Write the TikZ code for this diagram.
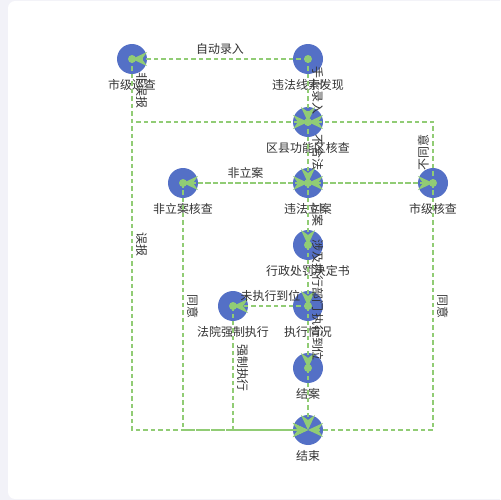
\documentclass[tikz,border=0pt]{standalone}
\usepackage{fontspec}
\setmainfont{Noto Sans CJK SC}
\usepackage{tikz}
\usetikzlibrary{arrows.meta}
\definecolor{nodecolor}{HTML}{5470C6}
\definecolor{linecolor}{HTML}{91CC75}
\definecolor{textcolor}{HTML}{333333}
\definecolor{sidecolor}{HTML}{F2F2F8}

\begin{document}
\begin{tikzpicture}[x=0.02cm, y=-0.02cm,
  lbl/.style={font=\fontsize{6.8pt}{8pt}\selectfont, text=textcolor, inner sep=0pt},
  state/.style={circle, fill=nodecolor, minimum size=0.6cm, inner sep=0pt,
    label={[lbl, label distance=0.1cm]below:#1}},
  flow/.style={draw=linecolor, line width=0.7pt, dash pattern=on 0.09cm off 0.06cm,
    -{Stealth[length=0.3cm, width=0.28cm, inset=0.1cm]}},
  elbl/.style={lbl, inner sep=0.07cm}]
   \useasboundingbox (0,0) rectangle (500,500);
   \fill [sidecolor] (0,0) rectangle (500,500);
   \fill [white, rounded corners=4] (8,1) rectangle (520,499);

   \node [state=市级巡查] (sjxc) at (132,59) {};
   \node [state=违法线索发现] (wfxs) at (308,59) {};
   \node [state=区县功能区核查] (qxhc) at (308,122) {};
   \node [state=非立案核查] (flahc) at (183,183) {};
   \node [state=违法立案] (wfla) at (308,183) {};
   \node [state=市级核查] (sjhc) at (433,183) {};
   \node [state=行政处罚决定书] (xzcf) at (308,245) {};
   \node [state=法院强制执行] (fyzx) at (233,306) {};
   \node [state=执行情况] (zxqk) at (308,306) {};
   \node [state=结案] (ja) at (308,368) {};
   \node [state=结束] (js) at (308,430) {};

   \draw [flow] (wfxs.center) -- node [elbl, above] {自动录入} (sjxc.center);
   \draw [flow] (sjxc.center) |- node [elbl, pos=0.25, sloped, above] {非误报} (qxhc.center);
   \draw [flow] (wfxs.center) -- node [elbl, sloped, above] {手工录入} (qxhc.center);
   \draw [flow] (sjxc.center) |- node [elbl, pos=0.25, sloped, above] {误报} (js.center);
   \draw [flow] (qxhc.center) -- node [elbl, sloped, above] {不合法} (wfla.center);
   \draw [flow] (wfla.center) -- node [elbl, above] {非立案} (flahc.center);
   \draw [flow] (flahc.center) -- (wfla.center);
   \draw [flow] (wfla.center) -- (sjhc.center);
   \draw [flow] (sjhc.center) -- (wfla.center);
   \draw [flow] (sjhc.center) |- node [elbl, pos=0.25, sloped, above] {不同意} (qxhc.center);
   \draw [flow] (sjhc.center) |- node [elbl, pos=0.25, sloped, above] {同意} (js.center);
   \draw [flow] (flahc.center) |- node [elbl, pos=0.25, sloped, above] {同意} (js.center);
   \draw [flow] (wfla.center) -- node [elbl, sloped, above] {立案} (xzcf.center);
   \draw [flow] (xzcf.center) -- node [elbl, sloped, above] {涉及执行部门} (zxqk.center);
   \draw [flow] (zxqk.center) -- node [elbl, above] {未执行到位} (fyzx.center);
   \draw [flow] (zxqk.center) -- node [elbl, sloped, above] {执行到位} (ja.center);
   \draw [flow] (fyzx.center) |- node [elbl, pos=0.25, sloped, above] {强制执行} (js.center);
   \draw [flow] (ja.center) -- (js.center);

%%   start dots
   \foreach \n in {sjxc,wfxs,qxhc,flahc,wfla,sjhc,xzcf,fyzx,zxqk,ja}
      \fill [linecolor] (\n.center) circle (4);
\end{tikzpicture}
\end{document}
